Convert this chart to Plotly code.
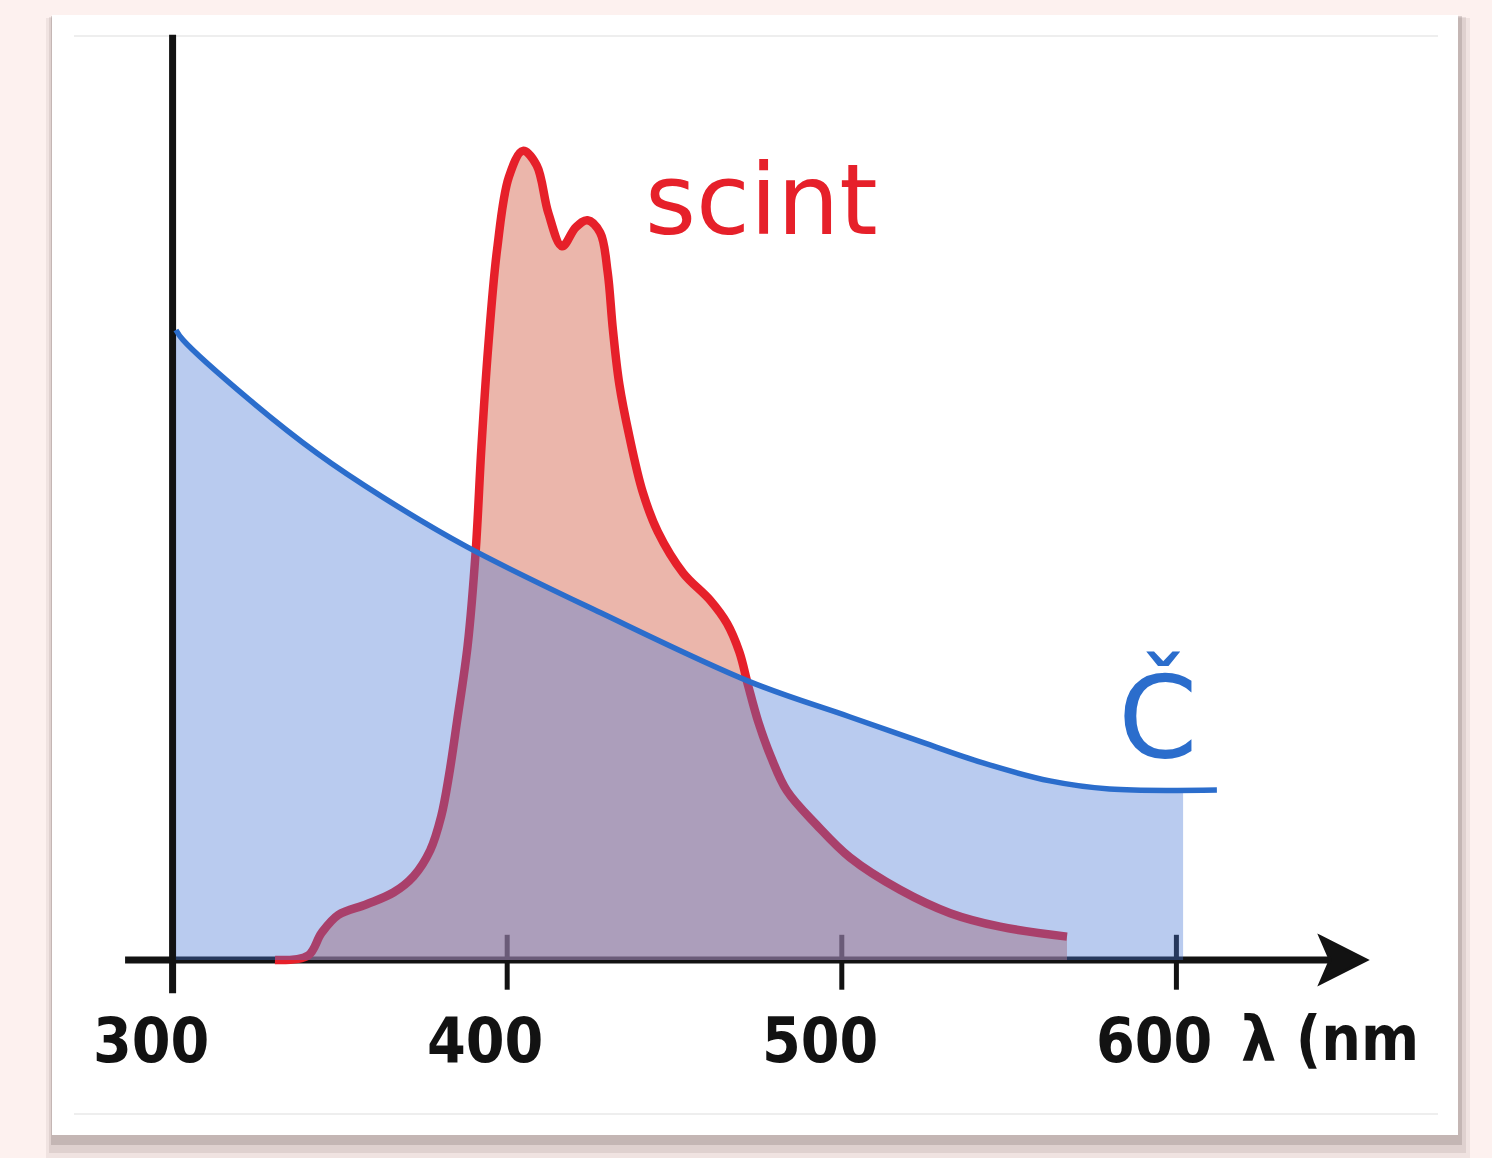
import numpy as np
import plotly.graph_objects as go

# Emission spectra (arbitrary intensity units) vs wavelength in nm
cherenkov_nm = [301.0, 303.1, 323.1, 343.2, 362.9, 388.0, 427.8, 472.6, 502.5,
                522.5, 542.2, 562.2, 580.0, 612.1]
cherenkov_int = [70.0, 68.9, 62.2, 56.3, 51.4, 45.9, 38.6, 30.9, 27.0,
                 24.4, 21.9, 19.9, 19.0, 18.9]

scint_nm = [330.6, 340.5, 344.5, 349.5, 358.0, 366.0, 372.0, 377.0, 380.3, 382.6,
            385.0, 388.2, 390.6, 392.3, 394.3, 397.0, 400.5, 404.7, 408.8, 412.3,
            416.4, 420.5, 424.0, 427.8, 430.0, 431.6, 433.5, 436.5, 440.5, 445.0,
            452.6, 460.6, 465.7, 469.4, 472.0, 475.0, 478.8, 483.6, 492.5, 502.4,
            517.4, 532.4, 547.3, 567.3]
scint_int = [0.0, 0.5, 3.0, 5.0, 6.2, 7.5, 9.3, 12.2, 16.0, 20.5,
             26.5, 35.0, 45.5, 57.0, 68.0, 79.0, 87.0, 89.9, 88.3, 83.0,
             79.3, 81.4, 82.2, 80.8, 76.5, 70.0, 64.0, 58.2, 52.0, 47.6,
             43.0, 40.0, 37.4, 34.2, 30.5, 26.5, 22.6, 18.8, 15.0, 11.4,
             7.8, 5.2, 3.7, 2.6]

tick_vals = [300, 400, 500, 600]
tick_text = ["300", "400", "500", "600"]
axis_title = "λ (nm"

# styling
W, H = 1492, 1158
X_RANGE = [248.42, 694.32]
Y_RANGE = [-22.0, 106.667]
INK = "#121212"
RED = "#e6202a"
BLUE = "#2b6dcc"
SHADE_END = 602.0  # where the blue shading stops

cx = np.array(cherenkov_nm)
cy = np.array(cherenkov_int)
keep = cx < SHADE_END
shade_x = list(cx[keep]) + [SHADE_END]
shade_y = list(cy[keep]) + [float(np.interp(SHADE_END, cx, cy))]

fig = go.Figure()

# scintillation: shaded area and outline
fig.add_trace(go.Scatter(
    x=scint_nm, y=scint_int, mode="lines", line=dict(color="rgba(0,0,0,0)", shape="spline", width=0),
    fill="tozeroy", fillcolor="rgba(219,122,102,0.55)", hoverinfo="skip", showlegend=False))
fig.add_trace(go.Scatter(
    x=scint_nm, y=scint_int, mode="lines", line=dict(color=RED, width=8.5, shape="spline"),
    hoverinfo="skip", showlegend=False))

# Cherenkov: translucent shading on top, then outline
fig.add_trace(go.Scatter(
    x=shade_x, y=shade_y, mode="lines", line=dict(color="rgba(0,0,0,0)", shape="spline", width=0),
    fill="tozeroy", fillcolor="rgba(71,118,213,0.38)", hoverinfo="skip", showlegend=False))
fig.add_trace(go.Scatter(
    x=cherenkov_nm, y=cherenkov_int, mode="lines", line=dict(color=BLUE, width=5.5, shape="spline"),
    hoverinfo="skip", showlegend=False))

shapes = []


def prect(x0, y0, x1, y1, color, layer="below", line=None):
    shapes.append(dict(type="rect", xref="paper", yref="paper",
                       x0=x0 / W, x1=x1 / W, y0=1 - y1 / H, y1=1 - y0 / H,
                       fillcolor=color, line=line or dict(width=0), layer=layer))


# card with drop shadow
prect(46, 18, 1470, 1158, "rgba(110,90,90,0.09)")
prect(49, 17, 1466, 1153, "rgba(110,90,90,0.13)")
prect(51, 16, 1462, 1145, "rgba(100,85,85,0.22)")
prect(52, 15, 1458, 1135, "#ffffff")
# faint frame lines of the inner sheet
for yy in (36, 1114):
    shapes.append(dict(type="line", xref="paper", yref="paper", x0=74 / W, x1=1438 / W,
                       y0=1 - yy / H, y1=1 - yy / H, line=dict(color="#e9e9e9", width=1.5),
                       layer="below"))

# hand-drawn axes (below the curves so the shading tints them)
shapes.append(dict(type="line", xref="x", yref="y", x0=285.8, x1=650.0, y0=0, y1=0,
                   line=dict(color=INK, width=7), layer="below"))
shapes.append(dict(type="line", xref="x", yref="y", x0=300, x1=300, y0=-3.7, y1=102.8,
                   line=dict(color=INK, width=7), layer="below"))
shapes.append(dict(type="path", xref="x", yref="y",
                   path="M 643.0 2.6 L 656.8 0 L 643.0 -2.6 L 646.0 0 Z",
                   fillcolor=INK, line=dict(color=INK, width=3), layer="below"))
for tv in tick_vals[1:]:
    shapes.append(dict(type="line", xref="x", yref="y", x0=tv, x1=tv, y0=-3.3, y1=2.8,
                       line=dict(color=INK, width=5), layer="below"))

annotations = []
label_font = dict(family="DejaVu Sans Condensed, DejaVu Sans", size=62, color=INK, weight="bold")
for tv, tt in zip(tick_vals, tick_text):
    annotations.append(dict(x=tv, y=0, xref="x", yref="y", text=tt, showarrow=False,
                            xanchor="center", yanchor="middle", xshift=-22, yshift=-80,
                            font=label_font))
annotations.append(dict(x=645.9, y=0, xref="x", yref="y", text=axis_title, showarrow=False,
                        xanchor="center", yanchor="middle", yshift=-78, font=label_font))
annotations.append(dict(x=476.0, y=84.5, xref="x", yref="y", text="scint", showarrow=False,
                        xanchor="center", yanchor="middle",
                        font=dict(family="DejaVu Sans", size=98, color=RED)))
annotations.append(dict(x=594.5, y=27.0, xref="x", yref="y", text="Č", showarrow=False,
                        xanchor="center", yanchor="middle",
                        font=dict(family="DejaVu Sans", size=114, color=BLUE)))

fig.update_layout(
    width=W, height=H, autosize=False,
    margin=dict(l=0, r=0, t=0, b=0, pad=0),
    paper_bgcolor="#fdf1ef", plot_bgcolor="rgba(0,0,0,0)",
    xaxis=dict(range=X_RANGE, visible=False, fixedrange=True),
    yaxis=dict(range=Y_RANGE, visible=False, fixedrange=True),
    shapes=shapes, annotations=annotations, showlegend=False,
)

fig.write_html("out.html", config={"displayModeBar": False})
